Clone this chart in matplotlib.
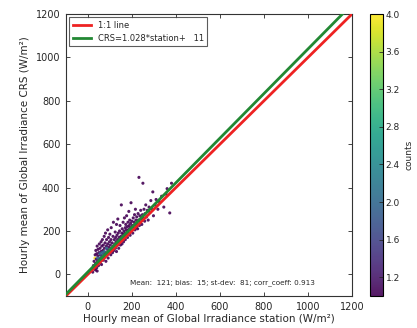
import matplotlib
matplotlib.use("Agg")
import matplotlib.pyplot as plt
import numpy as np

# station vs CRS hourly irradiance (W/m2)
station = [
    22, 25, 28, 30, 32, 33, 35, 36, 38, 40, 40, 42, 44, 45, 46, 48, 50, 50, 52, 54,
    55, 56, 58, 60, 60, 62, 63, 65, 66, 68, 70, 70, 72, 74, 75, 76, 78, 80, 80, 82,
    84, 85, 86, 88, 90, 90, 92, 94, 95, 96, 98, 100, 100,
    45, 55, 65, 75, 85, 60, 50, 70, 35, 42,
    102, 104, 105, 106, 108, 110, 112, 114, 115, 116, 118, 120, 122, 124, 125, 126,
    128, 130, 130, 132, 134, 135, 136, 138, 140, 140, 142, 144, 145, 146, 148, 150,
    150, 152, 154, 155, 156, 158, 160, 160, 162, 164, 165, 166, 168, 170, 170, 172,
    174, 175, 176, 178, 180, 180, 182, 184, 185, 186, 188, 190, 190, 192, 194, 195,
    196, 198,
    200, 202, 204, 206, 208, 210, 212, 214, 215, 216, 218, 220, 222, 224, 226, 228,
    230, 232, 234, 236, 238, 240, 242, 245, 248, 250, 252, 255, 258, 260, 263, 266,
    270, 274, 278, 282, 286, 290, 295, 298, 305, 310, 318, 325, 335, 345, 355, 372,
    380, 360,
]
crs = [
    10, 40, 60, 25, 75, 90, 50, 110, 70, 30, 95, 130, 60, 85, 115, 40, 100, 70, 140, 55,
    120, 90, 75, 150, 105, 45, 130, 85, 160, 110, 65, 135, 95, 175, 120, 80, 145, 100, 190, 60,
    130, 160, 90, 115, 140, 205, 75, 170, 125, 100, 150, 185, 110,
    75, 95, 100, 105, 120, 80, 60, 90, 20, 15,
    135, 90, 160, 215, 120, 145, 100, 175, 130, 240, 110, 160, 140, 195, 120, 170,
    150, 230, 105, 180, 135, 160, 255, 190, 145, 120, 170, 200, 155, 225, 135, 175,
    160, 320, 190, 140, 210, 165, 185, 240, 150, 200, 175, 260, 190, 215, 160, 230,
    180, 205, 270, 195, 220, 170, 240, 205, 190, 290, 225, 210, 250, 180, 235, 215,
    330, 200,
    245, 225, 190, 260, 215, 240, 275, 205, 230, 300, 250, 215, 265, 235, 210, 280,
    250, 447, 225, 270, 240, 295, 255, 230, 275, 420, 260, 300, 245, 280, 320, 265,
    295, 250, 310, 285, 340, 300, 380, 270, 320, 345, 300, 335, 360, 310, 370, 283,
    420, 395,
]
counts = (
    [1] * 4 + [4] + [1] * 48
    + [2] * 8 + [1] * 2
    + [1] * 66
    + [1] * 50
)

slope = 1.028
intercept = 11
stats_text = "Mean:  121; bias:  15; st-dev:  81; corr_coeff: 0.913"
ticks = [0, 200, 400, 600, 800, 1000, 1200]
cbar_ticks = [1.2, 1.6, 2.0, 2.4, 2.8, 3.2, 3.6, 4.0]

txt = "#262626"
plt.rcParams["font.family"] = "DejaVu Sans"

fig = plt.figure(figsize=(4.17, 3.28), dpi=100)
ax = fig.add_axes([0.158, 0.0976, 0.686, 0.8594])
cax = fig.add_axes([0.887, 0.0976, 0.031, 0.8594])

sc = ax.scatter(station, crs, c=counts, cmap="viridis", vmin=1, vmax=4,
                s=5, linewidths=0, alpha=0.9, zorder=3)

lims = np.array([-100, 1200])
ax.plot(lims, lims, color="#ee2222", lw=2, label="1:1 line", zorder=4)
ax.plot(lims, slope * lims + intercept, color="#228833", lw=2,
        label="CRS=%.3f*station+  %3d" % (slope, intercept), zorder=4)

ax.set_xlim(-100, 1200)
ax.set_ylim(-100, 1200)
ax.set_xticks(ticks)
ax.set_yticks(ticks)
ax.tick_params(direction="in", top=True, right=True, labelsize=7,
               length=3, width=0.6, colors=txt, pad=4)
for s in ax.spines.values():
    s.set_linewidth(0.8)
    s.set_color("#333333")

ax.set_xlabel("Hourly mean of Global Irradiance station (W/m²)",
              fontsize=7.5, color=txt, labelpad=2)
ax.set_ylabel("Hourly mean of Global Irradiance CRS (W/m²)",
              fontsize=7.5, color=txt, labelpad=4)

ax.text(190, -40, stats_text, fontsize=5.2, color=txt, va="center")

leg = ax.legend(loc="upper left", fontsize=6, frameon=True, fancybox=False,
                handlelength=2.2, borderpad=0.4, labelspacing=0.5,
                borderaxespad=0.4)
leg.get_frame().set_edgecolor("#333333")
leg.get_frame().set_linewidth(0.8)
for t in leg.get_texts():
    t.set_color(txt)

cb = fig.colorbar(sc, cax=cax, ticks=cbar_ticks)
cb.ax.tick_params(labelsize=6.5, colors=txt, direction="in", length=3,
                  width=0.6, pad=2)
cb.outline.set_linewidth(0.8)
cb.set_label("counts", fontsize=6.5, color=txt, labelpad=3)

fig.savefig("out.png", dpi=100)
